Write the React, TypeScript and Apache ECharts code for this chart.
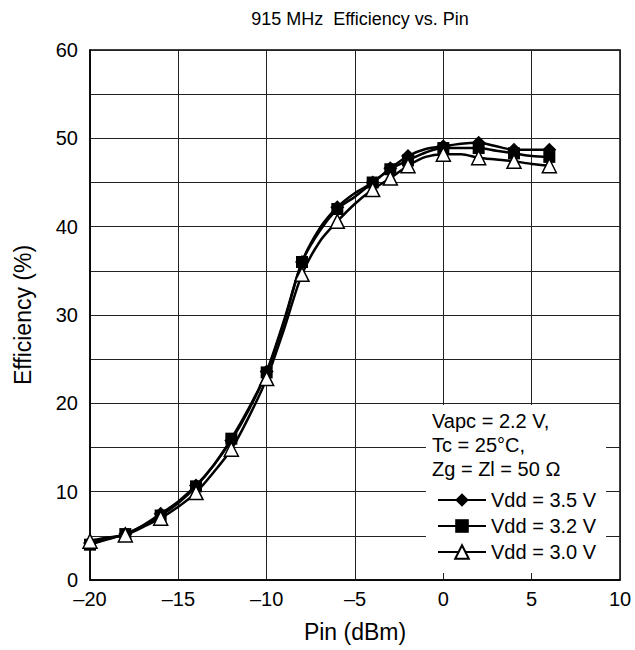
import React, { useEffect, useRef } from "react";
import * as echarts from "echarts";

const pinValues = [-20, -19, -18, -17, -16, -15, -14, -13, -12, -11, -10, -9, -8, -7, -6, -5, -4, -3, -2, -1, 0, 1, 2, 3, 4, 5, 6];
const markedPins = [-20, -18, -16, -14, -12, -10, -8, -6, -4, -3, -2, 0, 2, 4, 6];
const vdd35 = [4.2, 4.7, 5.2, 6.2, 7.5, 8.9, 10.7, 13.0, 15.8, 19.3, 23.6, 29.5, 36.0, 39.8, 42.2, 43.8, 45.0, 46.6, 48.0, 48.8, 49.1, 49.4, 49.5, 49.1, 48.7, 48.7, 48.7];
const vdd32 = [4.0, 4.6, 5.2, 6.1, 7.3, 8.7, 10.6, 13.0, 16.0, 19.5, 23.5, 29.3, 36.0, 39.5, 42.0, 43.4, 45.0, 46.5, 47.5, 48.4, 48.9, 48.9, 48.9, 48.6, 48.3, 48.0, 47.9];
const vdd30 = [4.4, 4.8, 5.1, 6.0, 7.0, 8.3, 9.9, 12.2, 14.8, 18.5, 22.8, 28.5, 34.6, 38.3, 40.6, 42.6, 44.2, 45.5, 46.9, 47.9, 48.2, 48.2, 47.8, 47.6, 47.4, 47.1, 46.9];
const seriesNames = ["Vdd = 3.5 V", "Vdd = 3.2 V", "Vdd = 3.0 V"];
const conditionLines = ["Vapc = 2.2 V,", "Tc = 25°C,", "Zg = Zl = 50 Ω"];
const titleText = "915 MHz  Efficiency vs. Pin";
const xAxisName = "Pin (dBm)";
const yAxisName = "Efficiency (%)";

const FONT = "'Liberation Sans', Arial, sans-serif";

function buildData(values: number[]) {
  return pinValues.map((p, i) =>
    markedPins.includes(p) ? { value: [p, values[i]] } : { value: [p, values[i]], symbol: "none" }
  );
}

export default function App() {
  const ref = useRef<HTMLDivElement>(null);
  useEffect(() => {
    document.body.style.margin = "0";
    if (!ref.current) return;
    const chart = echarts.init(ref.current, undefined, { renderer: "svg" });
    const lineStyle = { color: "#000", width: 2.5 };
    const option: any = {
      animation: false,
      backgroundColor: "#fff",
      title: {
        text: titleText,
        left: 355,
        top: 5,
        textAlign: "center",
        textStyle: { fontFamily: FONT, fontSize: 18, fontWeight: "normal", color: "#000" },
      },
      grid: {
        left: 90,
        right: 15,
        top: 50,
        bottom: 70,
        show: true,
        borderColor: "#000",
        borderWidth: 1.5,
      },
      xAxis: {
        type: "value",
        min: -20,
        max: 10,
        interval: 5,
        name: xAxisName,
        nameLocation: "middle",
        nameGap: 40,
        nameTextStyle: { fontFamily: FONT, fontSize: 23, color: "#000" },
        axisLine: { show: true, onZero: false, lineStyle: { color: "#000", width: 1.5 } },
        axisTick: { show: false },
        axisLabel: {
          fontFamily: FONT,
          fontSize: 20,
          color: "#000",
          margin: 9,
          formatter: (v: number) => String(v).replace("-", "\u2013"),
        },
        splitLine: { show: true, lineStyle: { color: "#222", width: 1 } },
      },
      yAxis: {
        type: "value",
        min: 0,
        max: 60,
        interval: 5,
        name: yAxisName,
        nameLocation: "middle",
        nameGap: 56,
        nameRotate: 90,
        nameTextStyle: { fontFamily: FONT, fontSize: 23, color: "#000" },
        axisLine: { show: true, onZero: false, lineStyle: { color: "#000", width: 1.5 } },
        axisTick: { show: false },
        axisLabel: {
          fontFamily: FONT,
          fontSize: 20,
          color: "#000",
          margin: 12,
          formatter: (v: number) => (v % 10 === 0 ? String(v) : ""),
        },
        splitLine: { show: true, lineStyle: { color: "#222", width: 1 } },
      },
      legend: {
        orient: "vertical",
        left: 432,
        top: 485,
        itemWidth: 48,
        itemHeight: 17,
        itemGap: 6,
        z: 10,
        data: seriesNames,
        textStyle: { fontFamily: FONT, fontSize: 20, color: "#000" },
      },
      graphic: [
        {
          type: "rect",
          z: 5,
          shape: { x: 426, y: 405, width: 180, height: 168 },
          style: { fill: "#fff" },
        },
        ...conditionLines.map((t, i) => ({
          type: "text",
          z: 6,
          x: 432,
          y: 421 + i * 24,
          style: { text: t, fontFamily: FONT, fontSize: 20, fill: "#000", verticalAlign: "middle" },
        })),
      ],
      series: [
        {
          name: seriesNames[0],
          type: "line",
          smooth: 0.3,
          symbol: "diamond",
          symbolSize: 14,
          lineStyle,
          itemStyle: { color: "#000" },
          data: buildData(vdd35),
          z: 2,
        },
        {
          name: seriesNames[1],
          type: "line",
          smooth: 0.3,
          symbol: "rect",
          symbolSize: 12,
          lineStyle,
          itemStyle: { color: "#000" },
          data: buildData(vdd32),
          z: 3,
        },
        {
          name: seriesNames[2],
          type: "line",
          smooth: 0.3,
          symbol: "triangle",
          symbolSize: 14,
          lineStyle,
          itemStyle: { color: "#fff", borderColor: "#000", borderWidth: 1.5 },
          data: buildData(vdd30),
          z: 4,
        },
      ],
    };
    chart.setOption(option);
    return () => chart.dispose();
  }, []);
  return <div ref={ref} style={{ width: 635, height: 650 }} />;
}
